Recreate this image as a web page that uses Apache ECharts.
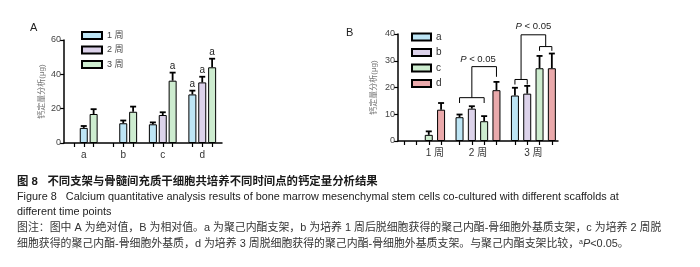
<!DOCTYPE html>
<html>
<head>
<meta charset="utf-8">
<script src="https://cdn.jsdelivr.net/npm/echarts@6/dist/echarts.min.js"></script>
<style>
html, body { margin: 0; padding: 0; background: #fff; }
#main { width: 700px; height: 267px; }
</style>
</head>
<body>
<div id="main"></div>
<script>
var FONT = 'Liberation Sans, Noto Sans CJK SC, sans-serif';

// ---- panel A (absolute values) ----
var groupsA = ['a', 'b', 'c', 'd'];
var weeksA = ['1 周', '2 周', '3 周'];
var week1A = [8.8, 11.5, 10.9, 28.3];
var week2A = [null, null, 16.3, 35.3];
var week3A = [16.9, 18.2, 36.3, 44.1];
var week1ErrA = [1.1, 1.6, 1.1, 2.2];
var week2ErrA = [0, 0, 1.6, 3.3];
var week3ErrA = [2.8, 3.0, 4.7, 5.0];
var week1SigA = [0, 0, 0, 1];
var week2SigA = [0, 0, 0, 1];
var week3SigA = [0, 0, 1, 1];
var yTicksA = [0, 20, 40, 60];

// ---- panel B (relative values) ----
var groupsB = ['1 周', '2 周', '3 周'];
var scaffoldsB = ['a', 'b', 'c', 'd'];
var aB = [null, 8.9, 17.0];
var bB = [null, 12.1, 17.7];
var cB = [2.3, 7.4, 27.2];
var dB = [11.7, 19.0, 27.2];
var aErrB = [0, 1.0, 2.9];
var bErrB = [0, 0.9, 2.9];
var cErrB = [1.3, 1.9, 4.6];
var dErrB = [2.5, 3.1, 5.5];
var yTicksB = [0, 10, 20, 30, 40];
// [group, from bar, to bar, top, left foot, right foot]
var bracketsB = [
  [1, 0, 2, 16.2, 14.2, 14.2],
  [1, 1, 3, 27.8, 16.2, 24.0],
  [2, 0, 1, 23.0, 21.1, 21.1],
  [2, 2, 3, 35.3, 33.7, 33.7],
  [2, 0.5, 2.5, 39.7, 23.0, 35.3]
];
// [group, bar position, height]
var pLabelsB = [[1, 1.5, 30.4], [2, 1.5, 42.8]];

var coloursA = ['#bde5f5', '#dcd2ea', '#cdeccf'];
var coloursB = ['#bde5f5', '#dcd2ea', '#cdeccf', '#eaa9ab'];

// slots: A has 4 per group (3 bars + gap), B has 9 half-slots per group
var nA = groupsA.length * 4 + 1;
var nB = groupsB.length * 9;
function slotA(g, k) {
  // where week 2 is missing, week 1 sits in the middle slot
  var shift = (k === 0 && week2A[g] == null) ? 1 : 0;
  return 4 * g + 1 + k + shift;
}
function slotB(g, k) { return 9 * g + 1 + 2 * k; }

var slotNamesA = [], slotNamesB = [];
for (var i = 0; i < nA; i++) slotNamesA.push('s' + i);
for (var i = 0; i < nB; i++) slotNamesB.push('s' + i);

var labelAtA = {};
groupsA.forEach(function (g, gi) { labelAtA[4 * gi + 2] = g; });

var valsA = [week1A, week2A, week3A];
var errsA = [week1ErrA, week2ErrA, week3ErrA];
var sigsA = [week1SigA, week2SigA, week3SigA];
var valsB = [aB, bB, cB, dB];
var errsB = [aErrB, bErrB, cErrB, dErrB];

var labelAtB = {};
groupsB.forEach(function (g, gi) {
  var s = [];
  valsB.forEach(function (v, k) { if (v[gi] != null) s.push(slotB(gi, k)); });
  var m = Math.round((s[0] + s[s.length - 1]) / 2);
  labelAtB[m] = g;
});

var series = [];
var errDataA = [], errDataB = [];

valsA.forEach(function (vals, k) {
  var d = slotNamesA.map(function () { return '-'; });
  vals.forEach(function (v, g) {
    if (v == null) return;
    d[slotA(g, k)] = v;
    errDataA.push([slotA(g, k), v, errsA[k][g], sigsA[k][g]]);
  });
  series.push({
    type: 'bar', name: weeksA[k], xAxisIndex: 0, yAxisIndex: 0,
    data: d, barWidth: 8, barGap: '-100%',
    itemStyle: { color: coloursA[k], borderColor: '#000', borderWidth: 1 }
  });
});

valsB.forEach(function (vals, k) {
  var d = slotNamesB.map(function () { return '-'; });
  vals.forEach(function (v, g) {
    if (v == null) return;
    d[slotB(g, k)] = v;
    errDataB.push([slotB(g, k), v, errsB[k][g], 0]);
  });
  series.push({
    type: 'bar', name: scaffoldsB[k], xAxisIndex: 1, yAxisIndex: 1,
    data: d, barWidth: 8, barGap: '-100%',
    itemStyle: { color: coloursB[k], borderColor: '#000', borderWidth: 1 }
  });
});

function renderErr(params, api) {
  var x = api.value(0), v = api.value(1), e = api.value(2), s = api.value(3);
  var p0 = api.coord([x, v]);
  var p1 = api.coord([x, v + e]);
  var st = { stroke: '#000', lineWidth: 1.8 };
  var ch = [
    { type: 'line', shape: { x1: p0[0], y1: p0[1], x2: p1[0], y2: p1[1] }, style: st },
    { type: 'line', shape: { x1: p1[0] - 3, y1: p1[1], x2: p1[0] + 3, y2: p1[1] }, style: st }
  ];
  if (s) {
    ch.push({ type: 'text', x: p1[0], y: p1[1] - 1,
      style: { text: 'a', fontSize: 10, fontFamily: FONT, fill: '#222', align: 'center', verticalAlign: 'bottom' } });
  }
  return { type: 'group', children: ch };
}

series.push({ type: 'custom', xAxisIndex: 0, yAxisIndex: 0, z: 5, renderItem: renderErr,
  encode: { x: 0, y: 1 }, data: errDataA });
series.push({ type: 'custom', xAxisIndex: 1, yAxisIndex: 1, z: 5, renderItem: renderErr,
  encode: { x: 0, y: 1 }, data: errDataB });

function barPos(g, b) { return 9 * g + 1 + 2 * b; }

series.push({
  type: 'custom', xAxisIndex: 1, yAxisIndex: 1, z: 6,
  encode: { x: 0, y: 2 },
  data: bracketsB.map(function (r) { return [barPos(r[0], r[1]), barPos(r[0], r[2]), r[3], r[4], r[5]]; }),
  renderItem: function (params, api) {
    var x1 = api.value(0), x2 = api.value(1), top = api.value(2);
    var pts = [api.coord([x1, api.value(3)]), api.coord([x1, top]),
               api.coord([x2, top]), api.coord([x2, api.value(4)])];
    return { type: 'polyline', shape: { points: pts }, style: { stroke: '#000', lineWidth: 1, fill: null } };
  }
});

series.push({
  type: 'custom', xAxisIndex: 1, yAxisIndex: 1, z: 6,
  encode: { x: 0, y: 1 },
  data: pLabelsB.map(function (r) { return [barPos(r[0], r[1]), r[2]]; }),
  renderItem: function (params, api) {
    var p = api.coord([api.value(0), api.value(1)]);
    return { type: 'text', x: p[0], y: p[1],
      style: { text: '{i|P} < 0.05', fontSize: 9.5, fontFamily: FONT, fill: '#222',
        align: 'center', verticalAlign: 'middle',
        rich: { i: { fontStyle: 'italic', fontSize: 9.5, fontFamily: FONT, fill: '#222' } } } };
  }
});

function xAxisOf(grid, names, labelAt, tickFn) {
  return {
    gridIndex: grid, type: 'category', boundaryGap: false, data: names,
    axisLine: { lineStyle: { color: '#000', width: 1.5 } },
    axisTick: { interval: tickFn, length: 4, lineStyle: { color: '#000', width: 1.2 } },
    axisLabel: { interval: 0, margin: 7, fontSize: 10, color: '#333', fontFamily: FONT,
      formatter: function (v, idx) { return labelAt[idx] || ''; } },
    splitLine: { show: false }
  };
}
function yAxisOf(grid, ticks, gap) {
  return {
    gridIndex: grid, type: 'value', min: ticks[0], max: ticks[ticks.length - 1],
    interval: ticks[1] - ticks[0],
    axisLine: { show: true, lineStyle: { color: '#000', width: 1.5 } },
    axisTick: { show: true, length: 4, lineStyle: { color: '#000', width: 1.2 } },
    axisLabel: { fontSize: 9, color: '#444', margin: 3, fontFamily: FONT },
    splitLine: { show: false },
    name: '钙定量分析(μg)', nameLocation: 'middle', nameGap: gap,
    nameTextStyle: { fontSize: 8, color: '#777', fontFamily: FONT }
  };
}

var option = {
  animation: false,
  textStyle: { fontFamily: FONT },
  grid: [
    { left: 64, top: 40, width: 158, height: 103 },
    { left: 398, top: 34, width: 160, height: 107 }
  ],
  xAxis: [
    xAxisOf(0, slotNamesA, labelAtA, function (i) { return i % 4 !== 0; }),
    xAxisOf(1, slotNamesB, labelAtB, function (i) { var r = i % 9; return r === 1 || r === 3 || r === 5 || r === 7; })
  ],
  yAxis: [yAxisOf(0, yTicksA, 18), yAxisOf(1, yTicksB, 20)],
  legend: [
    { data: weeksA, orient: 'vertical', left: 76, top: 26, icon: 'rect',
      itemWidth: 20, itemHeight: 7, itemGap: 5.5, selectedMode: false,
      textStyle: { fontSize: 9, color: '#444', fontFamily: FONT } },
    { data: scaffoldsB, orient: 'vertical', left: 406, top: 27, icon: 'rect',
      itemWidth: 19, itemHeight: 7, itemGap: 5.5, selectedMode: false,
      textStyle: { fontSize: 10, color: '#333', fontFamily: FONT } }
  ],
  graphic: [
    { type: 'text', left: 30, top: 22, style: { text: 'A', fontSize: 11, fontFamily: FONT, fill: '#222' } },
    { type: 'text', left: 346, top: 27, style: { text: 'B', fontSize: 11, fontFamily: FONT, fill: '#222' } },
    { type: 'text', left: 17, top: 176, style: { text: '图 8   不同支架与骨髓间充质干细胞共培养不同时间点的钙定量分析结果',
      fontSize: 11.4, fontWeight: 'bold', fontFamily: FONT, fill: '#1a1a1a' } },
    { type: 'text', left: 17, top: 192, style: { text: 'Figure 8   Calcium quantitative analysis results of bone marrow mesenchymal stem cells co-cultured with different scaffolds at',
      fontSize: 10.85, fontFamily: FONT, fill: '#222' } },
    { type: 'text', left: 17, top: 207, style: { text: 'different time points', fontSize: 10.85, fontFamily: FONT, fill: '#222' } },
    { type: 'text', left: 17, top: 223, style: { text: '图注：图中 A 为绝对值，B 为相对值。a 为聚己内酯支架，b 为培养 1 周后脱细胞获得的聚己内酯-骨细胞外基质支架，c 为培养 2 周脱',
      fontSize: 10.9, fontFamily: FONT, fill: '#333' } },
    { type: 'text', left: 17, top: 239, style: { text: '细胞获得的聚己内酯-骨细胞外基质，d 为培养 3 周脱细胞获得的聚己内酯-骨细胞外基质支架。与聚己内酯支架比较，{s|a}{i|P}<0.05。',
      fontSize: 10.9, fontFamily: FONT, fill: '#333',
      rich: { s: { fontSize: 7, verticalAlign: 'top', fill: '#333', fontFamily: FONT },
              i: { fontStyle: 'italic', fontSize: 10.9, fill: '#333', fontFamily: FONT } } } }
  ],
  series: series
};

var myChart = echarts.init(document.getElementById('main'));
myChart.setOption(option);
</script>
</body>
</html>
